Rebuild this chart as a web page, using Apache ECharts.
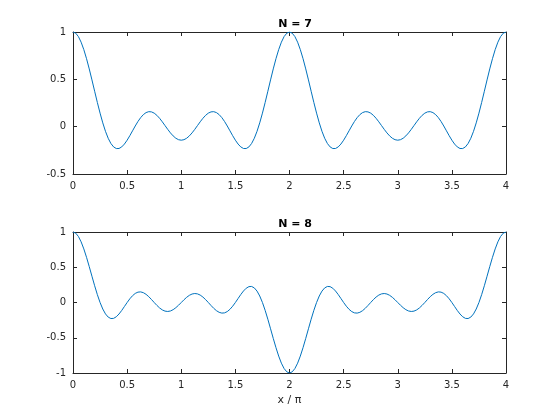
<!DOCTYPE html>
<html><head><meta charset="utf-8">
<script src="https://cdn.jsdelivr.net/npm/echarts@6/dist/echarts.min.js"></script>
<style>html,body{margin:0;padding:0;background:#fff}#c{width:560px;height:420px}</style>
</head><body><div id="c"></div>
<script>
var xs = [0,0.025,0.05,0.075,0.1,0.125,0.15,0.175,0.2,0.225,0.25,0.275,0.3,0.325,0.35,0.375,0.4,0.425,0.45,0.475,
  0.5,0.525,0.55,0.575,0.6,0.625,0.65,0.675,0.7,0.725,0.75,0.775,0.8,0.825,0.85,0.875,0.9,0.925,0.95,0.975,
  1,1.025,1.05,1.075,1.1,1.125,1.15,1.175,1.2,1.225,1.25,1.275,1.3,1.325,1.35,1.375,1.4,1.425,1.45,1.475,
  1.5,1.525,1.55,1.575,1.6,1.625,1.65,1.675,1.7,1.725,1.75,1.775,1.8,1.825,1.85,1.875,1.9,1.925,1.95,1.975,
  2,2.025,2.05,2.075,2.1,2.125,2.15,2.175,2.2,2.225,2.25,2.275,2.3,2.325,2.35,2.375,2.4,2.425,2.45,2.475,
  2.5,2.525,2.55,2.575,2.6,2.625,2.65,2.675,2.7,2.725,2.75,2.775,2.8,2.825,2.85,2.875,2.9,2.925,2.95,2.975,
  3,3.025,3.05,3.075,3.1,3.125,3.15,3.175,3.2,3.225,3.25,3.275,3.3,3.325,3.35,3.375,3.4,3.425,3.45,3.475,
  3.5,3.525,3.55,3.575,3.6,3.625,3.65,3.675,3.7,3.725,3.75,3.775,3.8,3.825,3.85,3.875,3.9,3.925,3.95,3.975,4];
var n7 = [1,0.9876,0.9514,0.8925,0.8137,0.7182,0.6100,0.4938,0.3740,0.2555,0.1429,0.0401,-0.0492,-0.1224,-0.1776,-0.2138,-0.2311,-0.2306,-0.2139,-0.1836,
  -0.1429,-0.0951,-0.0439,0.0071,0.0546,0.0955,0.1274,0.1487,0.1584,0.1562,0.1429,0.1196,0.0883,0.0514,0.0115,-0.0284,-0.0657,-0.0976,-0.1222,-0.1376,
  -0.1429,-0.1376,-0.1222,-0.0976,-0.0657,-0.0284,0.0115,0.0514,0.0883,0.1196,0.1429,0.1562,0.1584,0.1487,0.1274,0.0955,0.0546,0.0071,-0.0439,-0.0951,
  -0.1429,-0.1836,-0.2139,-0.2306,-0.2311,-0.2138,-0.1776,-0.1224,-0.0492,0.0401,0.1429,0.2555,0.3740,0.4938,0.6100,0.7182,0.8137,0.8925,0.9514,0.9876,
  1,0.9876,0.9514,0.8925,0.8137,0.7182,0.6100,0.4938,0.3740,0.2555,0.1429,0.0401,-0.0492,-0.1224,-0.1776,-0.2138,-0.2311,-0.2306,-0.2139,-0.1836,
  -0.1429,-0.0951,-0.0439,0.0071,0.0546,0.0955,0.1274,0.1487,0.1584,0.1562,0.1429,0.1196,0.0883,0.0514,0.0115,-0.0284,-0.0657,-0.0976,-0.1222,-0.1376,
  -0.1429,-0.1376,-0.1222,-0.0976,-0.0657,-0.0284,0.0115,0.0514,0.0883,0.1196,0.1429,0.1562,0.1584,0.1487,0.1274,0.0955,0.0546,0.0071,-0.0439,-0.0951,
  -0.1429,-0.1836,-0.2139,-0.2306,-0.2311,-0.2138,-0.1776,-0.1224,-0.0492,0.0401,0.1429,0.2555,0.3740,0.4938,0.6100,0.7182,0.8137,0.8925,0.9514,0.9876,1];
var n8 = [1,0.9838,0.9364,0.8604,0.7600,0.6407,0.5093,0.3726,0.2378,0.1116,0,-0.0923,-0.1618,-0.2070,-0.2275,-0.2250,-0.2023,-0.1633,-0.1131,-0.0569,
  0,0.0526,0.0966,0.1288,0.1470,0.1503,0.1394,0.1159,0.0825,0.0425,0,-0.0412,-0.0773,-0.1051,-0.1223,-0.1274,-0.1204,-0.1018,-0.0737,-0.0387,
  0,0.0387,0.0737,0.1018,0.1204,0.1274,0.1223,0.1051,0.0773,0.0412,0,-0.0425,-0.0825,-0.1159,-0.1394,-0.1503,-0.1470,-0.1288,-0.0966,-0.0526,
  0,0.0569,0.1131,0.1633,0.2023,0.2250,0.2275,0.2070,0.1618,0.0923,0,-0.1116,-0.2378,-0.3726,-0.5093,-0.6407,-0.7600,-0.8604,-0.9364,-0.9838,
  -1,-0.9838,-0.9364,-0.8604,-0.7600,-0.6407,-0.5093,-0.3726,-0.2378,-0.1116,0,0.0923,0.1618,0.2070,0.2275,0.2250,0.2023,0.1633,0.1131,0.0569,
  0,-0.0526,-0.0966,-0.1288,-0.1470,-0.1503,-0.1394,-0.1159,-0.0825,-0.0425,0,0.0412,0.0773,0.1051,0.1223,0.1274,0.1204,0.1018,0.0737,0.0387,
  0,-0.0387,-0.0737,-0.1018,-0.1204,-0.1274,-0.1223,-0.1051,-0.0773,-0.0412,0,0.0425,0.0825,0.1159,0.1394,0.1503,0.1470,0.1288,0.0966,0.0526,
  0,-0.0569,-0.1131,-0.1633,-0.2023,-0.2250,-0.2275,-0.2070,-0.1618,-0.0923,0,0.1116,0.2378,0.3726,0.5093,0.6407,0.7600,0.8604,0.9364,0.9838,1];
var titles = ['N = 7','N = 8'];
var xTicks = {min:0,max:4,interval:0.5};
var yRanges = [{min:-0.5,max:1,interval:0.5},{min:-1,max:1,interval:0.5}];
var xLabel = 'x / π';

var FONT = 'DejaVu Sans';
var AX = '#262626';
function pairs(ys){ return xs.map(function(x,i){ return [x, ys[i]]; }); }
var grids = [{left:73,width:433,top:32,height:142},{left:73,width:433,top:232,height:141}];
var xAxes = [], yAxes = [];
for (var g=0; g<2; g++){
  [ 'bottom','top' ].forEach(function(pos){
    xAxes.push({type:'value',gridIndex:g,position:pos,min:xTicks.min,max:xTicks.max,interval:xTicks.interval,
      axisLine:{onZero:false,lineStyle:{color:AX,width:1}},
      axisTick:{inside:true,length:4,lineStyle:{color:AX}},
      axisLabel:{show:pos==='bottom',color:AX,fontFamily:FONT,fontSize:10,margin:7},
      splitLine:{show:false},
      name:(g===1&&pos==='bottom')?xLabel:'',nameLocation:'middle',nameGap:22,
      nameTextStyle:{color:AX,fontFamily:FONT,fontSize:11}});
  });
  [ 'left','right' ].forEach(function(pos){
    yAxes.push({type:'value',gridIndex:g,position:pos,min:yRanges[g].min,max:yRanges[g].max,interval:yRanges[g].interval,
      axisLine:{show:true,onZero:false,lineStyle:{color:AX,width:1}},
      axisTick:{show:true,inside:true,length:4,lineStyle:{color:AX}},
      axisLabel:{show:pos==='left',color:AX,fontFamily:FONT,fontSize:10,margin:7},
      splitLine:{show:false}});
  });
}
var chart = echarts.init(document.getElementById('c'),null,{renderer:'canvas'});
chart.setOption({
  animation:false,
  backgroundColor:'#fff',
  title:[
    {text:titles[0],left:290,top:14,textAlign:'center',textStyle:{fontFamily:FONT,fontSize:11,fontWeight:'bold',color:'#000'}},
    {text:titles[1],left:290,top:214,textAlign:'center',textStyle:{fontFamily:FONT,fontSize:11,fontWeight:'bold',color:'#000'}}
  ],
  grid:grids,
  xAxis:xAxes,
  yAxis:yAxes,
  series:[
    {type:'line',xAxisIndex:0,yAxisIndex:0,data:pairs(n7),showSymbol:false,smooth:false,lineStyle:{color:'#0072BD',width:1}},
    {type:'line',xAxisIndex:2,yAxisIndex:2,data:pairs(n8),showSymbol:false,smooth:false,lineStyle:{color:'#0072BD',width:1}}
  ]
});
</script></body></html>
